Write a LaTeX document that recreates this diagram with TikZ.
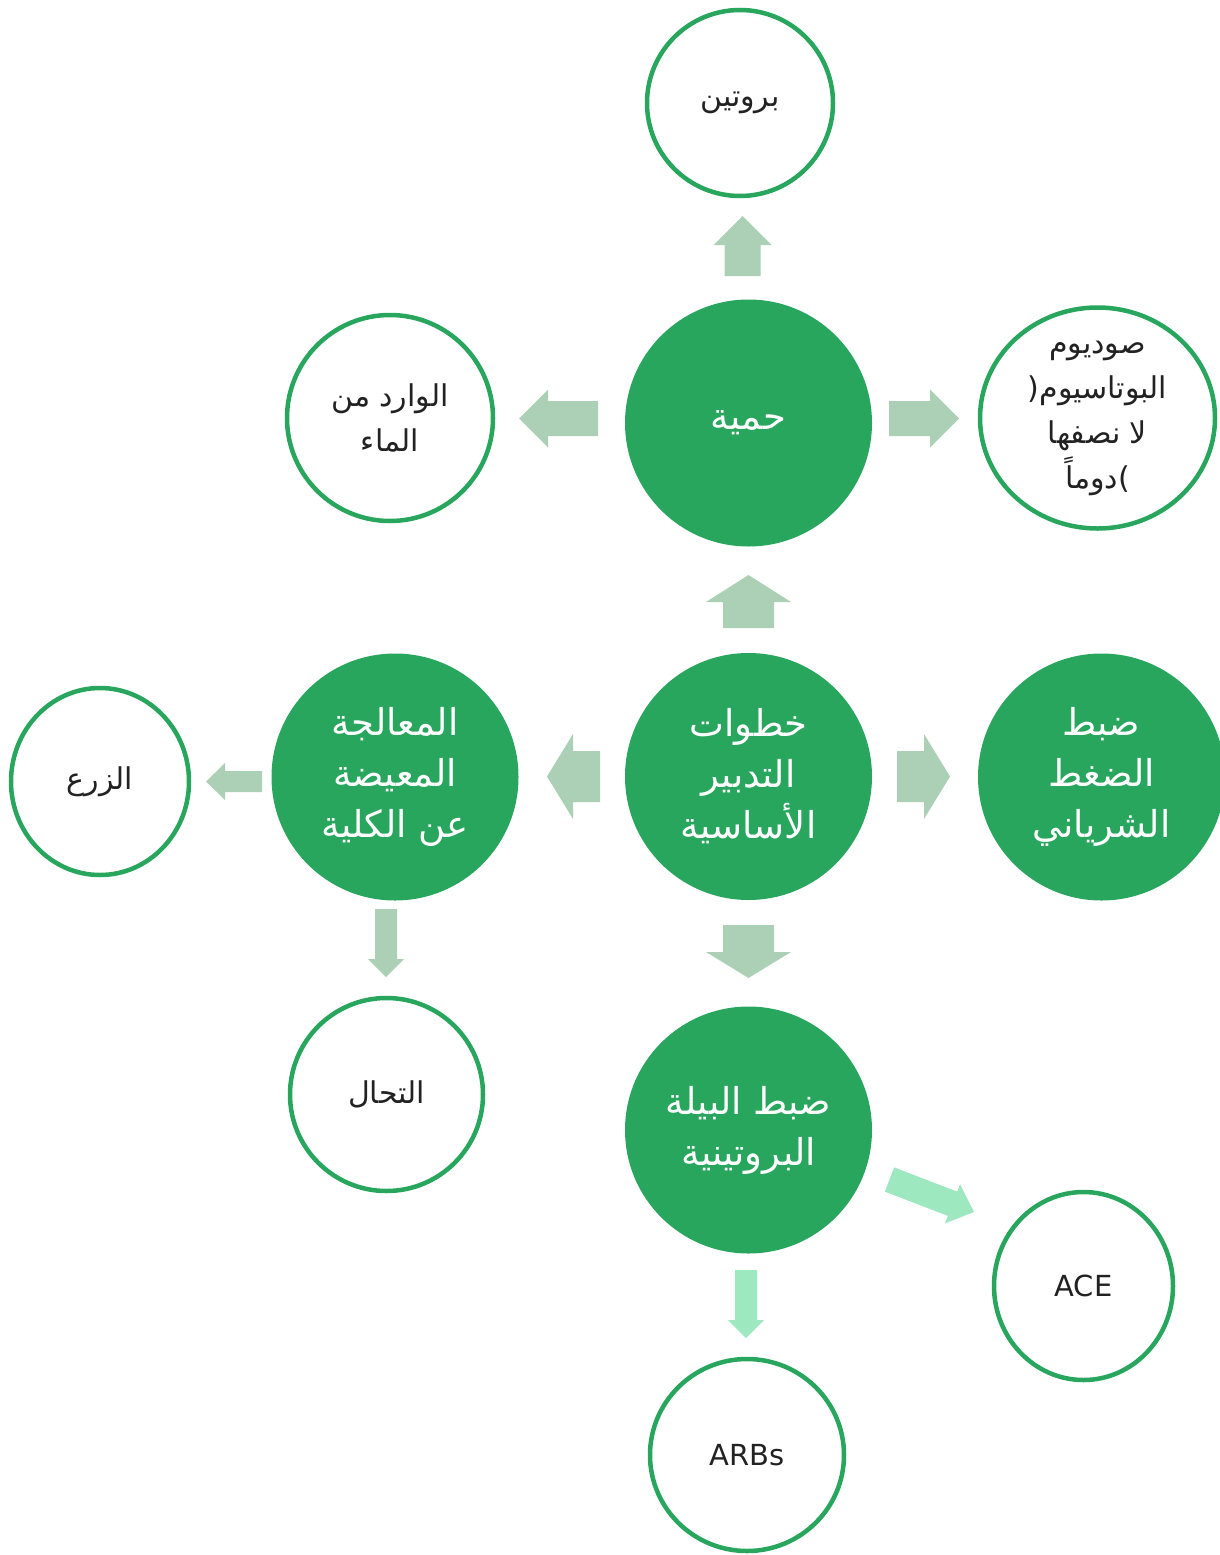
\documentclass[tikz,border=0pt]{standalone}
\usepackage{fontspec}
\usetikzlibrary{calc,shapes.geometric}
\TeXXeTstate=1
\newfontfamily\arabicfont[Script=Arabic]{DejaVu Sans}
\newfontfamily\latinfont{DejaVu Sans}
\definecolor{mygreen}{HTML}{28A65E}
\definecolor{arrowgray}{HTML}{ACD0B6}
\definecolor{mint}{HTML}{9DE8BF}
\definecolor{darktext}{HTML}{222222}
\newcommand\AR[1]{\hbox{\beginR #1\endR}}
% block arrow: style, start, tip, shaft half width, head half width, head length
\newcommand\barrow[6]{%
 \fill[#1] let \p1=#2, \p2=#3,
   \n1={atan2(\y2-\y1,\x2-\x1)}, \n2={veclen(\x2-\x1,\y2-\y1)-#6} in
   ($(\p1)+({\n1+90}:#4)$) -- ($(\p1)+(\n1:\n2)+({\n1+90}:#4)$)
   -- ($(\p1)+(\n1:\n2)+({\n1+90}:#5)$) -- (\p2)
   -- ($(\p1)+(\n1:\n2)+({\n1-90}:#5)$) -- ($(\p1)+(\n1:\n2)+({\n1-90}:#4)$)
   -- ($(\p1)+({\n1-90}:#4)$) -- cycle;}
\tikzset{
 bigfill/.style={circle, fill=mygreen, text=white, minimum size=247pt, inner sep=0pt,
   align=center, font=\arabicfont\fontsize{37}{51}\selectfont},
 ring/.style={circle, draw=mygreen, line width=4.5pt, fill=white, text=darktext,
   inner sep=0pt, align=center, font=\arabicfont\fontsize{30}{45}\selectfont},
 oval/.style={ring, ellipse},
 latintext/.style={font=\latinfont\fontsize{29}{44}\selectfont},
 blk/.style={fill=arrowgray},
 blkmint/.style={fill=mint},
}
\begin{document}
\begin{tikzpicture}[x=1pt,y=1pt]
\useasboundingbox (0,0) rectangle (1220,-1555);
% main filled circles
\node[bigfill] (c) at (748.5,-776.5) {\AR{خطوات}\\\AR{التدبير}\\\AR{الأساسية}};
\node[bigfill] (h) at (748.5,-423) {\AR{حمية}};
\node[bigfill] (m) at (395,-777) {\AR{المعالجة}\\\AR{المعيضة}\\\AR{عن الكلية}};
\node[bigfill] (p) at (1101.5,-777) {\AR{ضبط}\\\AR{الضغط}\\\AR{الشرياني}};
\node[bigfill] (b) at (748.5,-1130) {\AR{ضبط البيلة}\\\AR{البروتينية}};
% outline circles
\node[ring, minimum size=186pt] (pr) at (740,-103) {\AR{بروتين}};
\node[ring, minimum size=206pt] (w) at (390,-418) {\AR{الوارد من}\\\AR{الماء}};
\node[oval, minimum width=235pt, minimum height=221pt] (s) at (1097.5,-418)
  {\AR{صوديوم}\\\hbox{\hbox{(}\AR{البوتاسيوم}}\\\AR{لا نصفها}\\\hbox{\AR{دوماً}\hbox{)}}};
\node[oval, minimum width=178pt, minimum height=187pt] (z) at (100,-781.5) {\AR{الزرع}};
\node[ring, minimum size=193pt] (t) at (386.5,-1094.5) {\AR{التحال}};
\node[oval, latintext, minimum width=179pt, minimum height=188pt] (ace) at (1083.5,-1286) {ACE};
\node[oval, latintext, minimum width=194pt, minimum height=192pt] (arbs) at (747,-1455) {ARBs};
% block arrows
\barrow{blk}{($(c)+(0,148.5)$)}{($(c)+(0,201.5)$)}{25.5}{42.5}{27}
\barrow{blk}{($(c)+(0,-148.5)$)}{($(c)+(0,-201.5)$)}{25.5}{42.5}{26}
\barrow{blk}{($(c)+(-148.5,0)$)}{($(c)+(-201.5,0)$)}{25.5}{42.5}{26}
\barrow{blk}{($(c)+(148.5,0)$)}{($(c)+(201.5,0)$)}{25.5}{42.5}{26}
\barrow{blk}{($(h)+(-6,147)$)}{($(h)+(-6,207)$)}{18}{29}{29}
\barrow{blk}{($(h)+(-150.5,4.5)$)}{($(h)+(-229.5,4.5)$)}{17.5}{29}{29}
\barrow{blk}{($(h)+(140.5,4.5)$)}{($(h)+(210.5,4.5)$)}{17.5}{29}{29}
\barrow{blk}{($(m)+(-133,-4.5)$)}{($(m)+(-189,-4.5)$)}{10.5}{18.5}{19}
\barrow{blk}{($(m)+(-9,-132)$)}{($(m)+(-9,-200)$)}{11}{18}{18}
\barrow{blkmint}{($(b)+(-2.5,-140)$)}{($(b)+(-2.5,-208)$)}{11}{18}{18}
\barrow{blkmint}{($(b)+(141,-49.5)$)}{($(b)+(225.5,-82)$)}{13}{21}{23}
\end{tikzpicture}
\end{document}
